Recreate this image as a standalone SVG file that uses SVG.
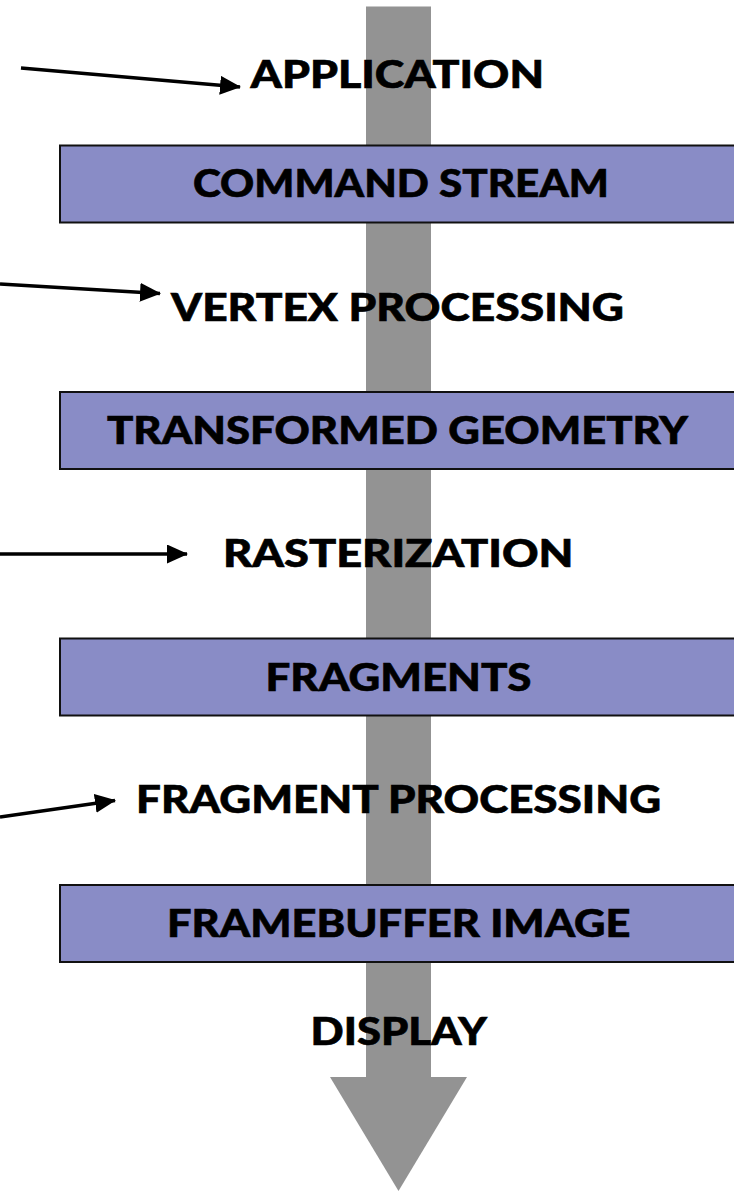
<svg xmlns="http://www.w3.org/2000/svg" width="734" height="1191" viewBox="0 0 734 1191">
  <defs>
    <style>
      .label { font-family: "Lato", "Liberation Sans", sans-serif; font-weight: 900; font-size: 37px; fill: #000; stroke: #000; stroke-width: 0.6; }
      .stage { fill: #898CC6; stroke: #111; stroke-width: 2; }
      .feed { stroke: #000; stroke-width: 3.5; fill: none; marker-end: url(#head); }
      .flow { fill: #939393; }
    </style>
    <marker id="head" markerUnits="userSpaceOnUse" markerWidth="21" markerHeight="19" refX="20" refY="9.5" orient="auto">
      <path d="M0,0 L21,9.5 L0,19 Z" fill="#000"/>
    </marker>
  </defs>

  <rect width="734" height="1191" fill="#fff"/>

  <!-- vertical pipeline arrow behind everything -->
  <g id="pipeline-flow">
    <rect class="flow" x="366" y="6" width="65" height="1072"/>
    <line x1="366" y1="6.5" x2="431" y2="6.5" stroke="#c8c8c8" stroke-width="1"/>
    <polygon class="flow" points="330,1077 467,1077 398.5,1191"/>
  </g>

  <!-- data stages (boxes run off the right edge) -->
  <g id="command-stream">
    <rect class="stage" x="60" y="145.5" width="690" height="77"/>
    <text class="label" x="193" y="197" textLength="416" lengthAdjust="spacingAndGlyphs">COMMAND STREAM</text>
  </g>
  <g id="transformed-geometry">
    <rect class="stage" x="60" y="392" width="690" height="77"/>
    <text class="label" x="107" y="444" textLength="581" lengthAdjust="spacingAndGlyphs">TRANSFORMED GEOMETRY</text>
  </g>
  <g id="fragments">
    <rect class="stage" x="60" y="638.5" width="690" height="77"/>
    <text class="label" x="265.5" y="691" textLength="266" lengthAdjust="spacingAndGlyphs">FRAGMENTS</text>
  </g>
  <g id="framebuffer-image">
    <rect class="stage" x="60" y="885" width="690" height="77"/>
    <text class="label" x="167" y="937" textLength="463.5" lengthAdjust="spacingAndGlyphs">FRAMEBUFFER IMAGE</text>
  </g>

  <!-- processing steps -->
  <g id="application">
    <text class="label" x="250.5" y="88" textLength="293.5" lengthAdjust="spacingAndGlyphs">APPLICATION</text>
  </g>
  <g id="vertex-processing">
    <text class="label" x="171" y="321" textLength="453" lengthAdjust="spacingAndGlyphs">VERTEX PROCESSING</text>
  </g>
  <g id="rasterization">
    <text class="label" x="223" y="567" textLength="350.5" lengthAdjust="spacingAndGlyphs">RASTERIZATION</text>
  </g>
  <g id="fragment-processing">
    <text class="label" x="136" y="813" textLength="525" lengthAdjust="spacingAndGlyphs">FRAGMENT PROCESSING</text>
  </g>
  <g id="display">
    <text class="label" x="310.5" y="1045" textLength="176.5" lengthAdjust="spacingAndGlyphs">DISPLAY</text>
  </g>

  <!-- inputs pointing at each processing step -->
  <g id="connectors">
    <line class="feed" x1="21" y1="68" x2="240" y2="87"/>
    <line class="feed" x1="0" y1="284" x2="160" y2="293.5"/>
    <line class="feed" x1="0" y1="554" x2="187" y2="554"/>
    <line class="feed" x1="0" y1="817" x2="115" y2="800.5"/>
  </g>
</svg>
